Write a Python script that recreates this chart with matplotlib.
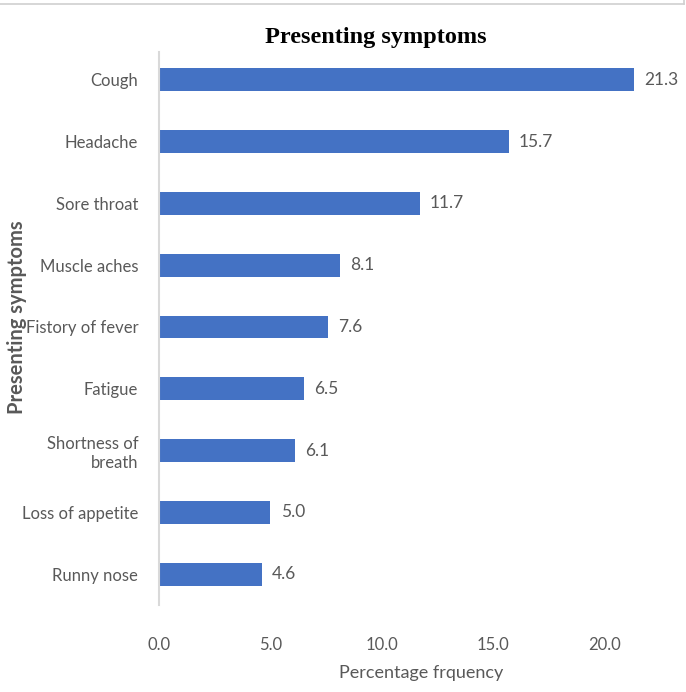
import matplotlib
matplotlib.use('Agg')
import matplotlib.pyplot as plt
from matplotlib.lines import Line2D
import numpy as np

# data, top to bottom
symptoms = ['Cough', 'Headache', 'Sore throat', 'Muscle aches', 'Fistory of fever',
            'Fatigue', 'Shortness of\nbreath', 'Loss of appetite', 'Runny nose']
percent = [21.3, 15.7, 11.7, 8.1, 7.6, 6.5, 6.1, 5.0, 4.6]
xticks = [0, 5, 10, 15, 20]

grey = '#595959'
bar_color = '#4472C4'
plt.rcParams['font.family'] = ['Lato', 'DejaVu Sans']

fig = plt.figure(figsize=(6.86, 6.92), dpi=100)
ax = fig.add_axes([159 / 686, 1 - 605 / 692, (683 - 159) / 686, (605 - 52) / 692])

# plot from the bottom so Cough ends up on top
ypos = np.arange(len(symptoms))[::-1]
ax.barh(ypos, percent, height=0.37, color=bar_color)
for y, v in zip(ypos, percent):
    ax.text(v + 0.45, y, '%.1f' % v, va='center', ha='left', fontsize=12.5, color=grey)

ax.set_xlim(0, 23.5)
ax.set_ylim(-0.5, 8.45)
ax.set_yticks(ypos)
ax.set_yticklabels(symptoms, fontsize=12, color=grey)
ax.set_xticks(xticks)
ax.set_xticklabels(['%.1f' % t for t in xticks], fontsize=12, color=grey)
ax.tick_params(axis='both', length=0)
ax.tick_params(axis='x', pad=23)
ax.tick_params(axis='y', pad=15)
for s in ['top', 'right', 'bottom']:
    ax.spines[s].set_visible(False)
ax.spines['left'].set_color('#d9d9d9')
ax.spines['left'].set_linewidth(1.5)

ax.set_xlabel('Percentage frquency', fontsize=13, color=grey, labelpad=9)
fig.text(17 / 686, 1 - 317 / 692, 'Presenting symptoms', rotation=90, fontsize=14.5,
         fontweight='bold', color=grey, ha='center', va='center')
fig.text(376 / 686, 1 - 37 / 692, 'Presenting symptoms', fontsize=17.5, fontweight='bold',
         family=['Liberation Serif'], ha='center', va='center')

# thin frame line at the top of the picture
fig.add_artist(Line2D([0, 684 / 686], [1 - 4 / 692, 1 - 4 / 692], color='#d0d0d0', lw=1.2))
fig.add_artist(Line2D([684 / 686, 684 / 686], [1 - 4 / 692, 1], color='#d0d0d0', lw=1.2))

fig.savefig('out.png', dpi=100)
